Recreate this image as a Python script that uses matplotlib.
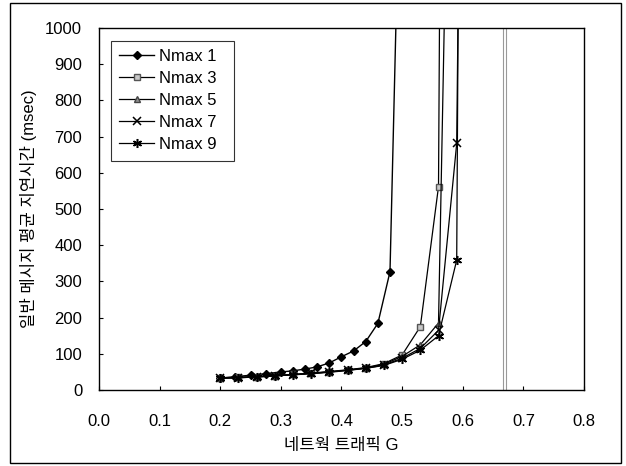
import numpy as np
import matplotlib
matplotlib.use("Agg")
import matplotlib.pyplot as plt
from matplotlib.patches import Rectangle

plt.rcParams['font.family'] = ['Liberation Sans', 'Noto Sans CJK KR', 'DejaVu Sans']

# Nmax 1 (diamonds)
g_n1 = [0.20, 0.225, 0.25, 0.275, 0.30, 0.32, 0.34, 0.36, 0.38, 0.40, 0.42, 0.44, 0.46, 0.48, 0.51]
d_n1 = [33, 37, 41, 45, 50, 53, 58, 64, 75, 92, 108, 134, 184, 327, 2420]

# Nmax 3..9 share the same traffic points
g_common = [0.20, 0.23, 0.26, 0.29, 0.32, 0.35, 0.38, 0.41, 0.44, 0.47, 0.50, 0.53, 0.56, 0.59, 0.62]
d_n3 = [34, 35, 37, 40, 43, 47, 51, 56, 62, 73, 97, 175, 562, 9000]
d_n5 = [33, 35, 37, 40, 43, 46, 50, 55, 61, 71, 93, 125, 185, 2800]
d_n7 = [33, 34, 36, 39, 42, 46, 50, 55, 60, 69, 88, 115, 165, 681, 5500]
d_n9 = [32, 34, 36, 39, 42, 45, 49, 54, 60, 68, 85, 110, 150, 359, 9000]

labels = ["Nmax 1  ", "Nmax 3  ", "Nmax 5  ", "Nmax 7  ", "Nmax 9  "]
x_ticks = [0.0, 0.1, 0.2, 0.3, 0.4, 0.5, 0.6, 0.7, 0.8]
y_ticks = list(range(0, 1001, 100))
limit_g = 0.668

fig = plt.figure(figsize=(6.26, 4.66), dpi=100)
ax = fig.add_axes([0.158, 0.163, 0.775, 0.777])

ax.plot(g_n1, d_n1, color="black", lw=1, marker="D", ms=4.5,
        mfc="black", mec="black", label=labels[0])
ax.plot(g_common[:len(d_n3)], d_n3, color="black", lw=0.9, marker="s", ms=4,
        mfc="#c8c8c8", mec="#555555", label=labels[1])
ax.plot(g_common[:len(d_n5)], d_n5, color="black", lw=0.9, marker="^", ms=4.5,
        mfc="#909090", mec="#444444", label=labels[2])
ax.plot(g_common[:len(d_n7)], d_n7, color="black", lw=0.9, marker="x", ms=5.5,
        mew=1.1, mec="black", label=labels[3])
ax.plot(g_common[:len(d_n9)], d_n9, color="black", lw=0.9, marker=(6, 2, 0), ms=6.5,
        mew=1.1, mec="black", label=labels[4])

ax.axvline(limit_g - 0.002, color="#999999", lw=0.8)
ax.axvline(limit_g + 0.003, color="#999999", lw=0.8)

ax.set_xlim(0, 0.8)
ax.set_ylim(0, 1000)
ax.set_xticks(x_ticks)
ax.set_yticks(y_ticks)
ax.set_xticklabels([f"{v:.1f}" for v in x_ticks])
ax.tick_params(direction="in", length=3, labelsize=12)
ax.tick_params(axis="x", pad=17)
ax.tick_params(axis="y", pad=12)
for s in ax.spines.values():
    s.set_linewidth(1)

ax.set_xlabel("네트웍 트래픽 G", fontsize=12, labelpad=7)
ax.set_ylabel("일반 메시지 평균 지연시간 (msec)", fontsize=12, labelpad=6)

leg = ax.legend(loc="upper left", bbox_to_anchor=(0.025, 0.964), fontsize=12,
                frameon=True, fancybox=False, handlelength=2.1, borderpad=0.5,
                labelspacing=0.42, handletextpad=0.25, borderaxespad=0)
leg.get_frame().set_edgecolor("black")
leg.get_frame().set_linewidth(0.8)

fig.patches.append(Rectangle((0.016, 0.006), 0.976, 0.988, transform=fig.transFigure,
                             fill=False, edgecolor="black", lw=1))

fig.savefig("out.png", dpi=100)
